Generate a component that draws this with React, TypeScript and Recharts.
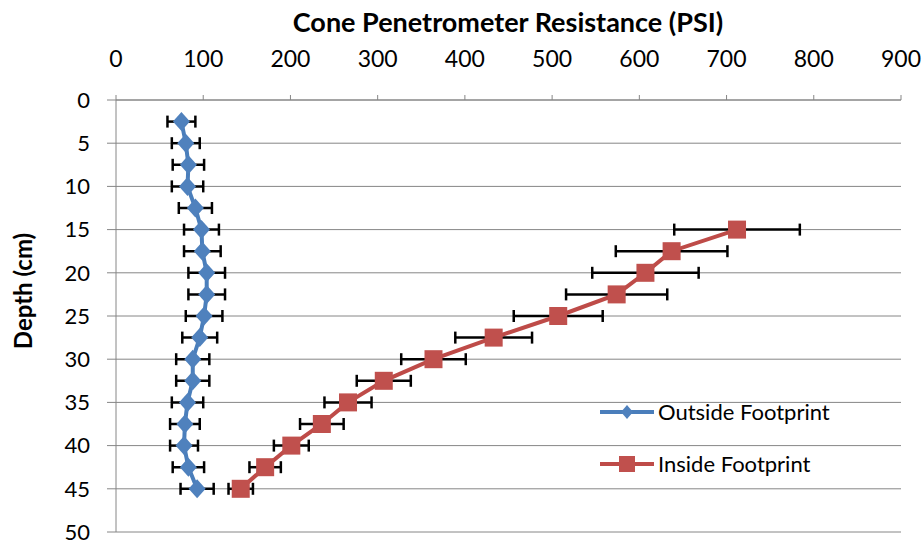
import React from 'react';
import { ScatterChart, Scatter, XAxis, YAxis, CartesianGrid, ErrorBar, Legend, Label } from 'recharts';

const xTicks = [0, 100, 200, 300, 400, 500, 600, 700, 800, 900];
const yTicks = [0, 5, 10, 15, 20, 25, 30, 35, 40, 45, 50];

const outsideDepths = [2.5, 5, 7.5, 10, 12.5, 15, 17.5, 20, 22.5, 25, 27.5, 30, 32.5, 35, 37.5, 40, 42.5, 45];
const outsideValues = [75, 80, 83, 82, 91, 98, 99, 104, 104, 101, 96, 88, 88, 82, 79, 78, 83, 93];
const outsideErrors = [16, 16, 18, 18, 19, 20, 21, 21, 21, 21, 20, 19, 19, 18, 17, 16, 18, 19];

const insideDepths = [15, 17.5, 20, 22.5, 25, 27.5, 30, 32.5, 35, 37.5, 40, 42.5, 45];
const insideValues = [712, 637, 607, 574, 507, 433, 364, 307, 266, 236, 201, 171, 143];
const insideErrors = [72, 64, 61, 58, 51, 44, 37, 31, 27, 25, 20, 18, 14];

const outsideData = outsideDepths.map((d, i) => ({ x: outsideValues[i], y: d, err: outsideErrors[i] }));
const insideData = insideDepths.map((d, i) => ({ x: insideValues[i], y: d, err: insideErrors[i] }));

const BLUE = '#4A7EBB';
const BLUE_M = '#4F81BD';
const RED = '#BE4B48';
const RED_M = '#C0504D';
const FONT = "Lato, 'Liberation Sans', sans-serif";
const GRID = '#868686';

const Diamond = (props: any) => {
  const { cx, cy } = props;
  if (cx == null || cy == null) return null;
  const w = 8.5, h = 9.5;
  return <polygon points={`${cx},${cy - h} ${cx + w},${cy} ${cx},${cy + h} ${cx - w},${cy}`} fill={BLUE_M} />;
};

const Square = (props: any) => {
  const { cx, cy } = props;
  if (cx == null || cy == null) return null;
  const s = 9;
  return <rect x={cx - s} y={cy - s} width={2 * s} height={2 * s} fill={RED_M} />;
};

const legendItems = [
  { name: 'Outside Footprint', color: BLUE, marker: 'diamond' },
  { name: 'Inside Footprint', color: RED, marker: 'square' },
];

const LegendContent = () => (
  <div style={{ fontFamily: FONT, fontSize: 22, color: '#000', lineHeight: '26px' }}>
    {legendItems.map((it, i) => (
      <div key={it.name} style={{ display: 'flex', alignItems: 'center', height: 26, marginBottom: i === 0 ? 26 : 0 }}>
        <svg width={58} height={26} style={{ display: 'block' }}>
          <line x1={2} y1={13} x2={56} y2={13} stroke={it.color} strokeWidth={4} />
          {it.marker === 'diamond' ? (
            <polygon points="29,6 35,13 29,20 23,13" fill={BLUE_M} />
          ) : (
            <rect x={21} y={5} width={16} height={16} fill={RED_M} />
          )}
        </svg>
        <span style={{ marginLeft: 2 }}>{it.name}</span>
      </div>
    ))}
  </div>
);

export default function App() {
  return (
    <div style={{ position: 'absolute', left: 0, top: 0, background: '#fff' }}>
      <ScatterChart width={924} height={544} margin={{ top: 60, right: 23, bottom: 12, left: 56 }}>
        <CartesianGrid horizontal vertical={false} stroke={GRID} strokeWidth={1} />
        <XAxis
          type="number"
          dataKey="x"
          orientation="top"
          domain={[0, 900]}
          ticks={xTicks}
          interval={0}
          height={40}
          tickSize={5}
          tickMargin={28}
          axisLine={{ stroke: GRID }}
          tickLine={{ stroke: GRID }}
          tick={{ fill: '#000', fontSize: 23, fontFamily: FONT }}
        >
          <Label
            content={() => (
              <text x={508} y={32} textAnchor="middle" fontFamily={FONT} fontSize={27} fontWeight="bold" fill="#000">
                Cone Penetrometer Resistance (PSI)
              </text>
            )}
          />
        </XAxis>
        <YAxis
          type="number"
          dataKey="y"
          reversed
          domain={[0, 50]}
          ticks={yTicks}
          interval={0}
          width={60}
          tickSize={9}
          tickMargin={17}
          axisLine={{ stroke: GRID }}
          tickLine={{ stroke: GRID }}
          tick={{ fill: '#000', fontSize: 22, fontFamily: FONT }}
        >
          <Label
            content={() => (
              <text
                x={22}
                y={291}
                transform="rotate(-90 22 291)"
                textAnchor="middle"
                dominantBaseline="central"
                fontFamily={FONT}
                fontSize={24}
                fontWeight="bold"
                fill="#000"
              >
                Depth (cm)
              </text>
            )}
          />
        </YAxis>
        <Legend
          layout="horizontal"
          verticalAlign="middle"
          align="center"
          content={<LegendContent />}
          wrapperStyle={{ position: 'absolute', left: 598, top: 399, width: 280 }}
        />
        <Scatter
          name="Outside Footprint"
          data={outsideData}
          line={{ stroke: BLUE, strokeWidth: 4 }}
          lineType="joint"
          shape={<Diamond />}
          isAnimationActive={false}
        >
          <ErrorBar dataKey="err" direction="x" width={6} stroke="#000" strokeWidth={2.5} />
        </Scatter>
        <Scatter
          name="Inside Footprint"
          data={insideData}
          line={{ stroke: RED, strokeWidth: 4 }}
          lineType="joint"
          shape={<Square />}
          isAnimationActive={false}
        >
          <ErrorBar dataKey="err" direction="x" width={6} stroke="#000" strokeWidth={2.5} />
        </Scatter>
      </ScatterChart>
    </div>
  );
}
